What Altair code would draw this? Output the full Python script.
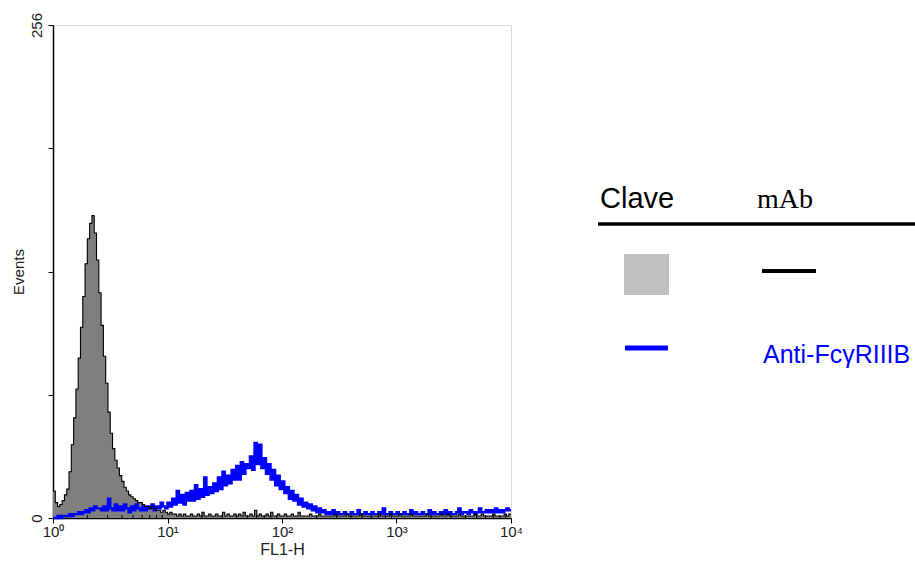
import altair as alt
import pandas as pd
import numpy as np

# ---------------- data ----------------
# histogram bins: log10(FL1-H) from 0 to 4 in steps of 0.02 (bin left edges)
bin_step = 0.02

gray_counts = [
    14, 8, 6, 7, 9, 12, 15, 24, 38, 52,
    67, 83, 99, 115, 132, 145, 153, 157, 148, 134,
    117, 100, 84, 70, 55, 44, 36, 30, 26, 22,
    19, 16, 14, 12, 11, 10, 9, 8, 8, 7,
    6, 6, 5, 6, 5, 4, 4, 3, 4, 3,
    2, 3, 2, 2, 1, 2, 1, 2, 1, 1,
    2, 1, 1, 2, 1, 3, 1, 1, 2, 1,
    1, 2, 1, 1, 3, 1, 2, 1, 1, 2,
    1, 2, 1, 3, 1, 1, 2, 1, 4, 1,
    2, 1, 1, 2, 1, 3, 1, 1, 2, 1,
    1, 2, 1, 1, 2, 1, 1, 3, 1, 1,
    1, 1, 2, 1, 1, 1, 2, 1, 1, 1,
    1, 1, 1, 2, 1, 1, 1, 1, 2, 1,
    1, 1, 1, 1, 2, 1, 1, 1, 1, 1,
    1, 1, 2, 1, 1, 1, 1, 2, 1, 1,
    1, 2, 1, 1, 1, 1, 2, 1, 1, 1,
    1, 1, 1, 2, 1, 1, 1, 1, 1, 2,
    1, 1, 2, 1, 1, 1, 1, 2, 1, 1,
    1, 1, 1, 1, 2, 1, 1, 2, 1, 1,
    1, 1, 2, 1, 1, 1, 1, 2, 1, 2, 2,
]

blue_counts = [
    0, 0, 1, 0, 1, 1, 1, 2, 1, 2,
    2, 3, 2, 3, 4, 3, 5, 4, 6, 5,
    5, 4, 6, 4, 10, 5, 4, 7, 4, 6,
    4, 7, 5, 3, 6, 4, 7, 5, 4, 6,
    4, 6, 5, 7, 4, 6, 5, 8, 6, 5,
    8, 6, 10, 7, 14, 8, 12, 7, 13, 9,
    14, 9, 17, 10, 15, 11, 21, 12, 16, 13,
    18, 14, 21, 15, 24, 17, 22, 18, 25, 20,
    27, 20, 29, 23, 28, 26, 32, 25, 39, 28,
    38, 26, 31, 23, 28, 20, 25, 17, 22, 15,
    19, 13, 16, 10, 14, 9, 12, 7, 10, 6,
    8, 5, 7, 4, 6, 3, 5, 3, 4, 2,
    3, 2, 4, 2, 3, 2, 2, 3, 2, 2,
    3, 2, 2, 4, 2, 2, 3, 2, 2, 3,
    2, 2, 3, 2, 5, 2, 2, 3, 2, 2,
    3, 2, 2, 3, 2, 2, 4, 2, 3, 2,
    2, 3, 2, 2, 4, 2, 3, 2, 2, 3,
    2, 4, 2, 3, 2, 2, 3, 5, 2, 3,
    3, 2, 4, 3, 2, 3, 5, 3, 3, 4,
    3, 4, 3, 5, 3, 4, 3, 4, 5, 4, 4,
]

x_ticks = [1, 10, 100, 1000, 10000]
x_tick_labels = ["10\u2070", "10\u00b9", "10\u00b2", "10\u00b3", "10\u2074"]
y_ticks = [0, 64, 128, 192, 256]
y_labeled = [0, 256]
minor_x_ticks = [m * d for d in [1, 10, 100, 1000] for m in range(2, 10)]

legend_headers = ["Clave", "mAb"]
series_label = "Anti-Fc\u03b3RIIIB"

# ---------------- build tables ----------------
n = len(gray_counts)
fl1 = [10 ** (i * bin_step) for i in range(n)]
df = pd.DataFrame({"fl1": fl1, "gray": gray_counts, "blue": blue_counts})
minor_df = pd.DataFrame({"fl1": minor_x_ticks})
one = pd.DataFrame({"k": [0]})

W, H = 458, 493

label_expr = ":".join(
    f"datum.value=={v}?'{l}'" for v, l in zip(x_ticks[:-1], x_tick_labels[:-1])
) + f":'{x_tick_labels[-1]}'"
y_label_expr = "||".join(f"datum.value=={v}" for v in y_labeled) + "?datum.label:''"

x_enc = alt.X(
    "fl1:Q",
    scale=alt.Scale(type="log", domain=[1, 10000], nice=False),
    axis=alt.Axis(
        values=x_ticks, labelExpr=label_expr, title="FL1-H", grid=False,
        tickSize=5, tickColor="black", domainColor="black", domainWidth=1.5,
        labelFontSize=15, labelFont="Liberation Sans", labelColor="#222",
        labelPadding=1, labelFlush=False,
        titleFontSize=16, titleFont="Liberation Sans", titleFontWeight="normal",
        titleColor="#222", titlePadding=2,
    ),
)
y_scale = alt.Scale(domain=[0, 256], nice=False)
y_axis = alt.Axis(
    values=y_ticks, labelExpr=y_label_expr, title="Events", grid=False,
    tickSize=5, tickColor="black", domainColor="black", domainWidth=1.5,
    labelAngle=270, labelAlign="center", labelBaseline="bottom",
    labelFontSize=15, labelFont="Liberation Sans", labelColor="#222",
    labelPadding=4,
    titleFontSize=15, titleFont="Liberation Sans", titleFontWeight="normal",
    titleColor="#222", titlePadding=3,
)

base = alt.Chart(df)
gray_area = base.mark_area(interpolate="step-after", color="#7f7f7f", opacity=1).encode(
    x=x_enc, y=alt.Y("gray:Q", scale=y_scale, axis=y_axis)
)
blue_line = base.mark_line(interpolate="step-after", color="#0000ff", strokeWidth=2.4).encode(
    x="fl1:Q", y=alt.Y("blue:Q", scale=y_scale)
)
black_line = base.mark_line(interpolate="step-after", color="black", strokeWidth=1.1).encode(
    x="fl1:Q", y=alt.Y("gray:Q", scale=y_scale)
)
minor = alt.Chart(minor_df).mark_rule(color="black", strokeWidth=1).encode(
    x="fl1:Q", y=alt.value(H), y2=alt.value(H - 3)
)

# ---------------- key on the right ----------------
leg = alt.Chart(one)
t_clave = leg.mark_text(align="left", baseline="alphabetic", font="Liberation Sans",
                        fontSize=29, color="black").encode(
    x=alt.value(547), y=alt.value(183), text=alt.value(legend_headers[0]))
t_mab = leg.mark_text(align="left", baseline="alphabetic", font="Liberation Serif",
                      fontSize=28, color="black").encode(
    x=alt.value(704), y=alt.value(183), text=alt.value(legend_headers[1]))
hdr_rule = leg.mark_rule(color="black", strokeWidth=3.5).encode(
    x=alt.value(545), x2=alt.value(862), y=alt.value(199))
gray_sq = leg.mark_rect(color="#c0c0c0").encode(
    x=alt.value(571), x2=alt.value(616), y=alt.value(229), y2=alt.value(270))
black_key = leg.mark_rule(color="black", strokeWidth=4).encode(
    x=alt.value(709), x2=alt.value(763), y=alt.value(246))
blue_key = leg.mark_rule(color="#0000ff", strokeWidth=5).encode(
    x=alt.value(572), x2=alt.value(615), y=alt.value(323))
t_anti = leg.mark_text(align="left", baseline="alphabetic", font="Liberation Sans",
                       fontSize=25, color="#0000ff").encode(
    x=alt.value(710), y=alt.value(338), text=alt.value(series_label))

chart = alt.layer(
    gray_area, blue_line, black_line, minor,
    t_clave, t_mab, hdr_rule, gray_sq, black_key, blue_key, t_anti,
).properties(
    width=W, height=H,
    autosize=alt.AutoSizeParams(type="none"),
    padding={"left": 53, "top": 25, "right": 915 - 53 - W, "bottom": 561 - 25 - H},
).configure_view(stroke="black", strokeWidth=1.5).configure(background="white")

chart.save("out.html", embed_options={"renderer": "svg", "actions": False})
